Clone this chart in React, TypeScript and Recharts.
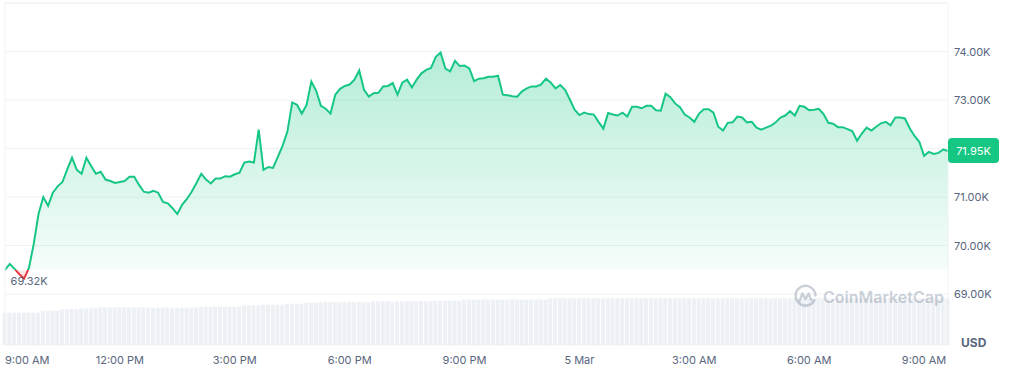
import { ComposedChart, Area, Bar, XAxis, YAxis, CartesianGrid, ReferenceLine, ReferenceDot } from "recharts";

// x axis: one point every 7.5 min, starting 9:00 AM (4 Mar)
const timeTicks = [0, 24, 48, 72, 96, 120, 144, 168, 192];
const timeLabels = ["9:00 AM", "12:00 PM", "3:00 PM", "6:00 PM", "9:00 PM", "5 Mar", "3:00 AM", "6:00 AM", "9:00 AM"];
const priceTicks = [69, 70, 71, 72, 73, 74];

// BTC price, thousands of USD
const prices = [
  69.5, 69.62, 69.52, 69.41, 69.32, 69.54, 70.03, 70.65, 71.0, 70.82,
  71.09, 71.22, 71.31, 71.57, 71.81, 71.56, 71.48, 71.81, 71.64, 71.48,
  71.52, 71.36, 71.33, 71.29, 71.31, 71.33, 71.42, 71.42, 71.25, 71.11,
  71.09, 71.13, 71.09, 70.9, 70.87, 70.77, 70.65, 70.84, 70.96, 71.11,
  71.29, 71.48, 71.36, 71.28, 71.38, 71.38, 71.43, 71.42, 71.47, 71.5,
  71.71, 71.73, 71.71, 72.39, 71.56, 71.62, 71.6, 71.83, 72.06, 72.35,
  72.95, 72.9, 72.72, 72.9, 73.38, 73.19, 72.88, 72.82, 72.72, 73.11,
  73.23, 73.29, 73.32, 73.42, 73.61, 73.21, 73.07, 73.14, 73.15, 73.28,
  73.29, 73.35, 73.11, 73.36, 73.42, 73.26, 73.42, 73.55, 73.62, 73.66,
  73.89, 73.98, 73.65, 73.59, 73.81, 73.7, 73.71, 73.65, 73.39, 73.44,
  73.45, 73.48, 73.48, 73.5, 73.11, 73.1, 73.08, 73.07, 73.18, 73.24,
  73.28, 73.28, 73.32, 73.44, 73.36, 73.24, 73.31, 73.21, 73.01, 72.8,
  72.69, 72.74, 72.71, 72.7, 72.55, 72.41, 72.73, 72.7, 72.68, 72.74,
  72.66, 72.86, 72.86, 72.83, 72.88, 72.88, 72.79, 72.78, 73.13, 73.06,
  72.93, 72.85, 72.7, 72.64, 72.55, 72.72, 72.81, 72.81, 72.74, 72.45,
  72.37, 72.53, 72.54, 72.66, 72.64, 72.54, 72.55, 72.43, 72.39, 72.43,
  72.47, 72.54, 72.64, 72.68, 72.77, 72.68, 72.88, 72.86, 72.79, 72.8,
  72.82, 72.71, 72.53, 72.51, 72.44, 72.44, 72.4, 72.36, 72.16, 72.31,
  72.43, 72.37, 72.45, 72.52, 72.55, 72.48, 72.64, 72.64, 72.62, 72.42,
  72.26, 72.14, 71.85, 71.93, 71.89, 71.91, 71.98, 71.95,
];

// 24h volume, billions of USD
const volumes = [
  37.6, 37.8, 37.8, 37.7, 37.8, 37.9, 37.8, 37.8, 39.9, 40.1,
  40.2, 40.1, 41.6, 41.8, 41.9, 41.8, 42.8, 42.9, 43.0, 42.9,
  44.0, 44.1, 44.1, 44.2, 44.1, 44.1, 44.0, 44.1, 44.2, 44.1,
  43.6, 43.6, 43.5, 43.6, 43.7, 43.6, 43.6, 43.5, 43.6, 43.6,
  43.7, 44.8, 44.8, 44.7, 44.8, 44.9, 44.8, 44.8, 44.7, 44.8,
  46.4, 46.4, 46.3, 46.4, 47.1, 47.1, 47.0, 47.1, 47.2, 48.3,
  48.3, 48.2, 48.3, 49.5, 49.5, 49.4, 50.0, 50.0, 50.1, 50.0,
  49.9, 50.0, 50.0, 50.1, 50.0, 50.0, 49.9, 51.1, 51.1, 51.0,
  51.1, 50.3, 51.1, 51.1, 51.2, 51.1, 51.0, 51.1, 51.1, 51.2,
  51.8, 51.8, 51.7, 51.8, 51.9, 51.8, 53.0, 53.0, 52.9, 53.0,
  53.1, 53.0, 53.0, 52.9, 53.0, 53.0, 53.1, 53.0, 53.0, 52.9,
  53.0, 53.0, 53.1, 53.0, 54.5, 54.6, 54.6, 54.7, 54.6, 54.5,
  54.6, 54.6, 54.7, 54.6, 54.6, 54.5, 54.6, 54.6, 54.7, 54.6,
  54.5, 54.6, 54.6, 54.6, 54.7, 54.6, 54.5, 54.6, 54.6, 54.7,
  54.6, 54.6, 54.5, 54.6, 54.6, 54.6, 54.7, 54.6, 54.5, 54.6,
  54.6, 54.7, 54.6, 54.6, 54.5, 54.6, 54.6, 54.6, 54.7, 54.6,
  54.5, 54.6, 54.6, 54.7, 54.6, 54.6, 54.5, 54.6, 54.6, 54.6,
  54.7, 54.6, 54.5, 54.6, 54.6, 54.7, 54.6, 54.6, 54.5, 54.6,
  54.6, 54.6, 54.7, 54.6, 54.5, 54.6, 54.6, 54.7, 54.6, 54.6,
  54.5, 54.6, 54.6, 54.6, 54.7, 54.6, 54.5, 54.6,
];

const GREEN = "#16c784";
const RED = "#ea3943";
const GRID = "#eff2f5";
const TEXT = "#58667e";

const data = prices.map((price, i) => ({ i, price, volume: volumes[i] }));
const openPrice = prices[0];
const lastPrice = prices[prices.length - 1];
const maxP = Math.max(...prices);
const minP = Math.min(...prices);
const minIdx = prices.indexOf(minP);
const split = (maxP - openPrice) / (maxP - minP);
const lastIdx = prices.length - 1;

const XTick = ({ x, y, payload }: any) => {
  const idx = timeTicks.indexOf(payload.value);
  return (
    <text x={x} y={y} dy={11} textAnchor={idx === 0 ? "start" : "middle"} fill={TEXT} fontSize={11}>
      {timeLabels[idx]}
    </text>
  );
};

const YTick = ({ x, y, payload }: any) => {
  if (Math.abs(payload.value - lastPrice) < 0.3) return <g />;
  return (
    <text x={x - 2} y={y} dy={4} textAnchor="start" fill={TEXT} fontSize={11}>
      {payload.value.toFixed(2)}K
    </text>
  );
};

const PriceBadge = ({ viewBox }: any) => {
  const x = viewBox.x + viewBox.width;
  const y = viewBox.y;
  return (
    <g>
      <rect x={x} y={y - 13} width={51} height={25} rx={4} fill={GREEN} />
      <text x={x + 25.5} y={y + 4} textAnchor="middle" fill="#fff" fontSize={11}>
        {lastPrice.toFixed(2)}K
      </text>
    </g>
  );
};

const MinLabel = ({ viewBox }: any) => (
  <text x={viewBox.x + 5} y={viewBox.y + 6} dy={0} textAnchor="middle" fill={TEXT} fontSize={11}>
    {minP.toFixed(2)}K
  </text>
);

export default function App() {
  return (
    <div style={{ position: "absolute", left: 0, top: 0, width: 1009, height: 371, fontFamily: "Inter, sans-serif" }}>
      <ComposedChart width={1009} height={371} data={data} margin={{ top: 3, right: 0, left: 5, bottom: 0 }}>
        <defs>
          <linearGradient id="fillGrad" x1="0" y1="0" x2="0" y2="1">
            <stop offset="0" stopColor={GREEN} stopOpacity={0.32} />
            <stop offset={split} stopColor={GREEN} stopOpacity={0.04} />
            <stop offset={split} stopColor={RED} stopOpacity={0.08} />
            <stop offset="1" stopColor={RED} stopOpacity={0.18} />
          </linearGradient>
          <linearGradient id="lineGrad" x1="0" y1="0" x2="0" y2="1">
            <stop offset="0" stopColor={GREEN} />
            <stop offset={split} stopColor={GREEN} />
            <stop offset={split} stopColor={RED} />
            <stop offset="1" stopColor={RED} />
          </linearGradient>
        </defs>
        <CartesianGrid vertical={false} stroke={GRID} />
        <XAxis
          dataKey="i"
          type="number"
          domain={[0, lastIdx]}
          ticks={timeTicks}
          tick={<XTick />}
          axisLine={false}
          tickLine={false}
          height={26}
        />
        <YAxis
          orientation="right"
          type="number"
          domain={[67.95, 75]}
          ticks={priceTicks}
          tick={<YTick />}
          axisLine={false}
          tickLine={false}
          width={61}
        />
        <YAxis yAxisId="vol" hide domain={[0, 400]} />
        <Bar yAxisId="vol" dataKey="volume" fill="#edf0f4" barSize={4} isAnimationActive={false} />
        <ReferenceLine y={75} stroke={GRID} />
        <ReferenceLine x={0} stroke={GRID} />
        <ReferenceLine x={lastIdx} stroke={GRID} />
        <Area
          dataKey="price"
          type="linear"
          baseValue={openPrice}
          stroke="url(#lineGrad)"
          strokeWidth={2}
          fill="url(#fillGrad)"
          fillOpacity={1}
          dot={false}
          activeDot={false}
          isAnimationActive={false}
        />
        <ReferenceLine y={lastPrice} stroke="none" label={<PriceBadge />} />
        <ReferenceDot x={minIdx} y={minP} r={0} fill="none" stroke="none" label={<MinLabel />} />
      </ComposedChart>
      <div
        style={{
          position: "absolute",
          left: 793,
          top: 284,
          display: "flex",
          alignItems: "center",
          gap: 5,
          color: "rgba(120,134,155,0.38)",
          fontSize: 16,
          fontWeight: 600,
          pointerEvents: "none",
        }}
      >
        <svg width={25} height={25} viewBox="0 0 24 24">
          <path d="M20.5 15.5 A9.5 9.5 0 1 1 21.5 11" fill="none" stroke="rgba(120,134,155,0.38)" strokeWidth={2.4} strokeLinecap="round" />
          <path d="M6.5 16 L9 9 L12 14.5 L15 9 L17.5 15.5" fill="none" stroke="rgba(120,134,155,0.38)" strokeWidth={2.2} strokeLinejoin="round" strokeLinecap="round" />
        </svg>
        <span>CoinMarketCap</span>
      </div>
      <div style={{ position: "absolute", left: 961, top: 335, color: TEXT, fontSize: 12, fontWeight: 700 }}>USD</div>
    </div>
  );
}
